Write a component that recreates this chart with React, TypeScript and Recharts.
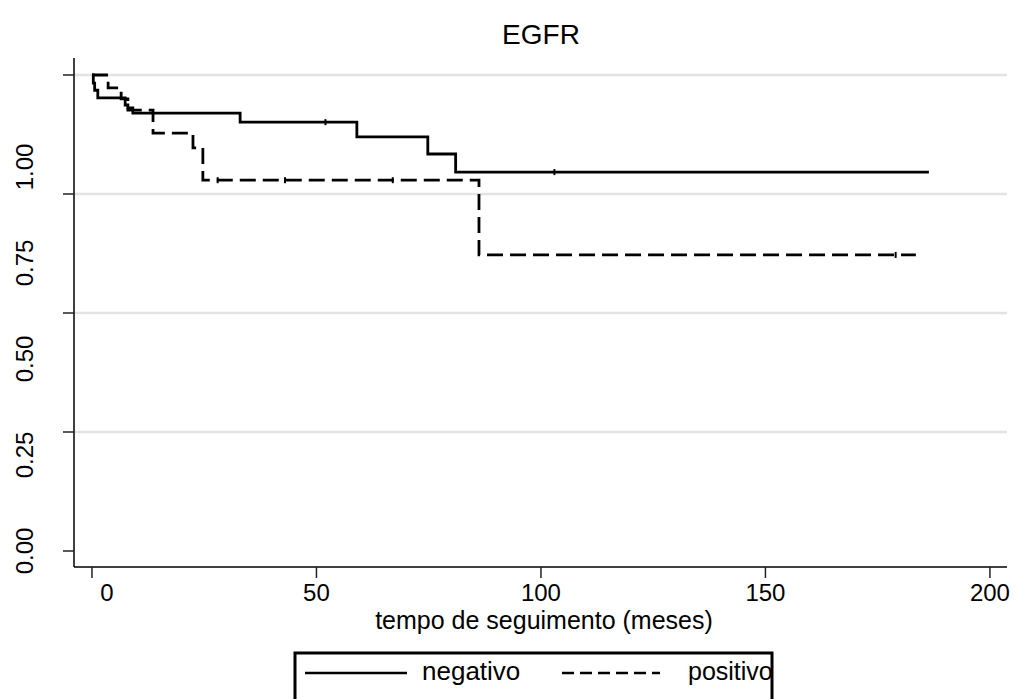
import { ComposedChart, Line, Scatter, XAxis, YAxis, ReferenceLine } from 'recharts';

// Kaplan-Meier steps (time in months, survival)
const negTime = [0, 0.3, 0.6, 1.3, 7.4, 8.0, 9.1, 33, 59, 74.8, 81, 186.4];
const negSurv = [1, 0.983, 0.968, 0.952, 0.937, 0.931, 0.92, 0.901, 0.87, 0.834, 0.796, 0.796];
const posTime = [0, 3.6, 6.5, 8.0, 13.6, 22.5, 24.7, 86.2, 183.5];
const posSurv = [1, 0.973, 0.95, 0.926, 0.878, 0.847, 0.779, 0.622, 0.622];

// censored observations
const negCensTime = [52, 103];
const negCensSurv = [0.901, 0.796];
const posCensTime = [28, 43, 67, 179];
const posCensSurv = [0.779, 0.779, 0.779, 0.622];

const xTicks = [0, 50, 100, 150, 200];
const yTicks = [0, 0.25, 0.5, 0.75, 1];
const yTickLabels = ['0.00', '0.25', '0.50', '0.75', '1.00'];
const gridValues = [0.25, 0.5, 0.75, 1];
const seriesNames = ['negativo', 'positivo'];

const FONT = '"Liberation Sans", Arial, Helvetica, sans-serif';

const negData = negTime.map((t, i) => ({ t, s: negSurv[i] }));
const posData = posTime.map((t, i) => ({ t, s: posSurv[i] }));
const negCens = negCensTime.map((t, i) => ({ t, s: negCensSurv[i] }));
const posCens = posCensTime.map((t, i) => ({ t, s: posCensSurv[i] }));

const CensorMark = (props: any) => {
  const { cx, cy } = props;
  if (cx == null || cy == null) return null;
  return <line x1={cx} x2={cx} y1={cy - 3} y2={cy + 3} stroke="#000" strokeWidth={2} />;
};

const YTick = (props: any) => {
  const { x, y, payload, index } = props;
  // labels sit a bit lower than their ticks in the original
  const ly = y + payload.value * 92;
  return (
    <text
      x={x}
      y={ly}
      transform={`rotate(-90, ${x}, ${ly})`}
      textAnchor="middle"
      fontSize={24}
      fontFamily={FONT}
      fill="#000"
    >
      {yTickLabels[index]}
    </text>
  );
};

const XTick = (props: any) => {
  const { x, y, payload } = props;
  const dx = payload.value === 0 ? 15 : 0;
  return (
    <text x={x + dx} y={y} dy="0.71em" textAnchor="middle" fontSize={24} fontFamily={FONT} fill="#000">
      {payload.value}
    </text>
  );
};

export default function App() {
  return (
    <div style={{ position: 'absolute', left: 0, top: 0, width: 1026, height: 699, background: '#fff', overflow: 'hidden' }}>
      <ComposedChart
        width={1026}
        height={699}
        margin={{ top: 58, right: 19, bottom: 72, left: 0 }}
      >
        <XAxis
          xAxisId="b"
          type="number"
          dataKey="t"
          domain={[-4.0, 203.8]}
          ticks={xTicks}
          allowDataOverflow
          height={60}
          tickSize={11}
          tickMargin={6}
          tick={<XTick />}
          axisLine={{ stroke: '#000', strokeWidth: 1.5 }}
          tickLine={{ stroke: '#222', strokeWidth: 1.5 }}
        />
        <XAxis xAxisId="top" orientation="top" type="number" domain={[0, 1]} height={0} tick={false} tickLine={false} axisLine={{ stroke: '#000', strokeWidth: 1.5 }} />
        <YAxis
          yAxisId="l"
          type="number"
          domain={[-0.0336, 1.0357]}
          ticks={yTicks}
          allowDataOverflow
          width={74}
          tickSize={11}
          tickMargin={30}
          tick={<YTick />}
          axisLine={{ stroke: '#000', strokeWidth: 1.5 }}
          tickLine={{ stroke: '#222', strokeWidth: 1.5 }}
        />
        <YAxis yAxisId="r" orientation="right" type="number" domain={[0, 1]} width={0} tick={false} tickLine={false} axisLine={{ stroke: '#000', strokeWidth: 1.5 }} />

        {gridValues.map((v) => (
          <ReferenceLine key={v} xAxisId="b" yAxisId="l" y={v} stroke="#e3e3e3" strokeWidth={2.5} />
        ))}

        <Line
          xAxisId="b"
          yAxisId="l"
          data={negData}
          dataKey="s"
          name={seriesNames[0]}
          type="stepAfter"
          stroke="#000"
          strokeWidth={2.8}
          dot={false}
          isAnimationActive={false}
        />
        <Line
          xAxisId="b"
          yAxisId="l"
          data={posData}
          dataKey="s"
          name={seriesNames[1]}
          type="stepAfter"
          stroke="#000"
          strokeWidth={2.8}
          strokeDasharray="16 7"
          dot={false}
          isAnimationActive={false}
        />
        <Scatter xAxisId="b" yAxisId="l" data={negCens} dataKey="s" shape={<CensorMark />} isAnimationActive={false} />
        <Scatter xAxisId="b" yAxisId="l" data={posCens} dataKey="s" shape={<CensorMark />} isAnimationActive={false} />
      </ComposedChart>

      <svg width={1026} height={699} style={{ position: 'absolute', left: 0, top: 0, pointerEvents: 'none' }}>
        <text x={541} y={44} textAnchor="middle" fontSize={28} fontFamily={FONT} fill="#000">EGFR</text>
        <text x={544} y={629} textAnchor="middle" fontSize={25} fontFamily={FONT} fill="#000">tempo de seguimento (meses)</text>
        <rect x={295} y={653} width={477} height={60} fill="none" stroke="#000" strokeWidth={3} />
        <line x1={305} x2={407} y1={673} y2={673} stroke="#000" strokeWidth={2.5} />
        <text x={422} y={680} fontSize={26} fontFamily={FONT} fill="#000">{seriesNames[0]}</text>
        <line x1={562} x2={660} y1={673} y2={673} stroke="#000" strokeWidth={2.5} strokeDasharray="12 6" />
        <text x={688} y={680} fontSize={25} fontFamily={FONT} fill="#000">{seriesNames[1]}</text>
      </svg>
    </div>
  );
}
